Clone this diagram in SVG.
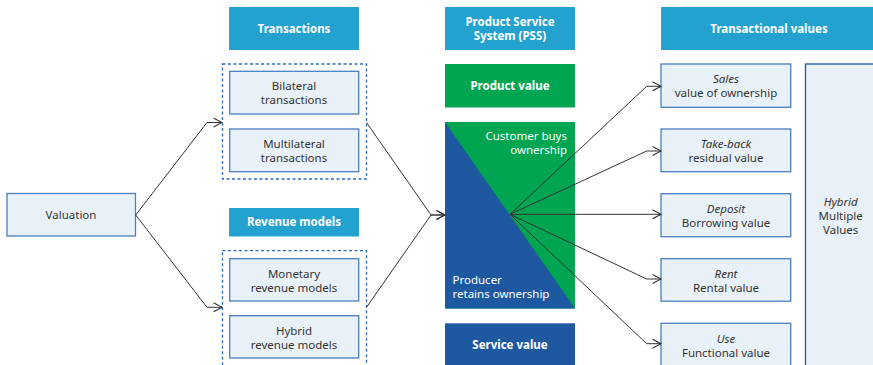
<svg xmlns="http://www.w3.org/2000/svg" width="873" height="365" viewBox="0 0 873 365">
<defs>
<style>
.t{font-family:"Noto Sans","Open Sans","DejaVu Sans",sans-serif;font-size:11.5px;fill:#333;text-anchor:middle}
.h{font-family:"Noto Sans","Open Sans","DejaVu Sans",sans-serif;font-size:11.5px;font-weight:bold;fill:#fff;text-anchor:middle}
.w{font-family:"Noto Sans","Open Sans","DejaVu Sans",sans-serif;font-size:11.5px;fill:#fff}
.i{font-style:italic}
.box{fill:#e9f1f8;stroke:#4a7fc1;stroke-width:1.3}
.hdr{fill:#23a2d0}
.dash{fill:none;stroke:#2d6cc0;stroke-width:1.3;stroke-dasharray:3,2.5}
.c{fill:none;stroke:#333;stroke-width:1}
</style>
<marker id="arr" viewBox="0 0 10 10" refX="9.5" refY="5" markerWidth="10" markerHeight="10" markerUnits="userSpaceOnUse" orient="auto">
<path d="M1,0.5 L9.5,5 L1,9.5" fill="none" stroke="#333" stroke-width="1.1"/>
</marker>
</defs>
<rect width="873" height="365" fill="#fff"/>

<g id="valuation"><rect class="box" x="7" y="193.5" width="128.5" height="42.5"/><text class="t" x="71" y="219">Valuation</text></g>

<g id="transactions-header"><rect class="hdr" x="229" y="7" width="130" height="43"/><text class="h" x="294" y="33">Transactions</text></g>
<g id="transactions-group"><rect class="dash" x="222.5" y="64" width="144" height="115"/></g>
<g id="bilateral"><rect class="box" x="229.7" y="71.3" width="129" height="42.7"/><text class="t" x="294" y="90">Bilateral</text><text class="t" x="294" y="104">transactions</text></g>
<g id="multilateral"><rect class="box" x="229.7" y="129" width="129" height="42.7"/><text class="t" x="294" y="148">Multilateral</text><text class="t" x="294" y="162">transactions</text></g>

<g id="revenue-header"><rect class="hdr" x="229" y="208" width="130" height="28.5"/><text class="h" x="294" y="226">Revenue models</text></g>
<g id="revenue-group"><rect class="dash" x="222.5" y="250.7" width="144" height="125"/></g>
<g id="monetary"><rect class="box" x="229.7" y="258.7" width="129" height="42.3"/><text class="t" x="294" y="277.5">Monetary</text><text class="t" x="294" y="291.5">revenue models</text></g>
<g id="hybrid-revenue"><rect class="box" x="229.7" y="315.7" width="129" height="42.3"/><text class="t" x="294" y="334.5">Hybrid</text><text class="t" x="294" y="348.5">revenue models</text></g>

<g id="pss-header"><rect class="hdr" x="445" y="7" width="130" height="43"/><text class="h" x="510" y="26">Product Service</text><text class="h" x="510" y="40">System (PSS)</text></g>
<g id="product-value"><rect fill="#00a551" x="445" y="64" width="130" height="43.5"/><text class="h" x="510" y="90">Product value</text></g>
<g id="ownership">
<rect fill="#00a551" x="445" y="122" width="130" height="186.5"/>
<polygon fill="#1d58a0" points="445,122 575,308.5 445,308.5"/>
<text class="w" x="567" y="140" text-anchor="end">Customer buys</text>
<text class="w" x="567" y="154" text-anchor="end">ownership</text>
<text class="w" x="452.5" y="284">Producer</text>
<text class="w" x="452.5" y="298">retains ownership</text>
</g>
<g id="service-value"><rect fill="#1d58a0" x="445" y="323.3" width="130" height="43"/><text class="h" x="510" y="349">Service value</text></g>

<g id="transactional-header"><rect class="hdr" x="661" y="7" width="214" height="43"/><text class="h" x="769" y="33">Transactional values</text></g>
<g id="sales"><rect class="box" x="661" y="64" width="129.7" height="43.3"/><text class="t i" x="726" y="83">Sales</text><text class="t" x="726" y="97">value of ownership</text></g>
<g id="take-back"><rect class="box" x="661" y="129" width="129.7" height="42.7"/><text class="t i" x="726" y="148">Take-back</text><text class="t" x="726" y="162">residual value</text></g>
<g id="deposit"><rect class="box" x="661" y="193.7" width="129.7" height="43"/><text class="t i" x="726" y="213">Deposit</text><text class="t" x="726" y="227">Borrowing value</text></g>
<g id="rent"><rect class="box" x="661" y="258.7" width="129.7" height="42.5"/><text class="t i" x="726" y="278">Rent</text><text class="t" x="726" y="292">Rental value</text></g>
<g id="use"><rect class="box" x="661" y="323.3" width="129.7" height="43"/><text class="t i" x="726" y="343">Use</text><text class="t" x="726" y="357">Functional value</text></g>
<g id="hybrid-values"><rect fill="#e9f1f8" stroke="#1d58a0" stroke-width="1.3" x="805.5" y="64" width="72" height="310"/><text class="t i" x="840.7" y="206">Hybrid</text><text class="t" x="840.7" y="220">Multiple</text><text class="t" x="840.7" y="234">Values</text></g>

<g id="connectors">
<polyline class="c" points="135.7,215 207,122.5 222,122.5" marker-end="url(#arr)"/>
<polyline class="c" points="135.7,215 207,307.3 222,307.3" marker-end="url(#arr)"/>
<polyline class="c" points="366.5,122.5 431,215 445,215" marker-end="url(#arr)"/>
<polyline class="c" points="366.5,307.3 431,215 445,215" marker-end="url(#arr)"/>
<polyline class="c" points="510,214.3 646.7,86.3 661,86.3" marker-end="url(#arr)"/>
<polyline class="c" points="510,214.3 646.7,151 661,151" marker-end="url(#arr)"/>
<polyline class="c" points="510,214.3 661,214.3" marker-end="url(#arr)"/>
<polyline class="c" points="510,214.3 646.7,279 661,279" marker-end="url(#arr)"/>
<polyline class="c" points="510,214.3 646.7,343.7 661,343.7" marker-end="url(#arr)"/>
</g>
</svg>
